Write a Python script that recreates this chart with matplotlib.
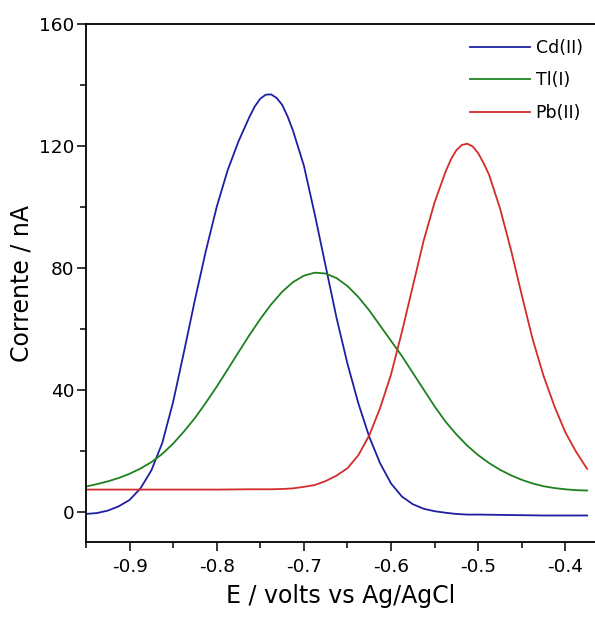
import matplotlib
matplotlib.use("Agg")
import matplotlib.pyplot as plt
from matplotlib.ticker import MultipleLocator

# potentials (V vs Ag/AgCl) and currents (nA)
cd_potential = [-0.9500, -0.9375, -0.9250, -0.9125, -0.9000, -0.8875, -0.8750, -0.8625,
                -0.8500, -0.8375, -0.8250, -0.8125, -0.8000, -0.7875, -0.7750, -0.7625,
                -0.75625, -0.7500, -0.74375, -0.7375, -0.73125, -0.7250, -0.71875, -0.7125,
                -0.7000, -0.6875, -0.6750, -0.6625, -0.6500, -0.6375, -0.6250, -0.6125,
                -0.6000, -0.5875, -0.5750, -0.5625, -0.5500, -0.5375, -0.5250, -0.5125,
                -0.5000, -0.4750, -0.4500, -0.4250, -0.4000, -0.3750]
cd_current = [-0.8, -0.5, 0.3, 1.7, 3.8, 7.6, 13.5, 22.5,
              36.0, 52.5, 69.5, 85.5, 100.0, 112.0, 121.5, 129.5,
              133.0, 135.5, 136.8, 136.9, 135.7, 133.5, 129.7, 125.0,
              113.5, 97.5, 80.5, 63.5, 48.5, 35.5, 24.5, 15.8,
              9.2, 4.9, 2.4, 0.9, 0.1, -0.4, -0.8, -1.0,
              -1.0, -1.1, -1.2, -1.3, -1.3, -1.3]

tl_potential = [-0.9500, -0.9375, -0.9250, -0.9125, -0.9000, -0.8875, -0.8750, -0.8625,
                -0.8500, -0.8375, -0.8250, -0.8125, -0.8000, -0.7875, -0.7750, -0.7625,
                -0.7500, -0.7375, -0.7250, -0.7125, -0.7000, -0.6875, -0.6750, -0.6625,
                -0.6500, -0.6375, -0.6250, -0.6125, -0.6000, -0.5875, -0.5750, -0.5625,
                -0.5500, -0.5375, -0.5250, -0.5125, -0.5000, -0.4875, -0.4750, -0.4625,
                -0.4500, -0.4375, -0.4250, -0.4125, -0.4000, -0.3875, -0.3750]
tl_current = [8.2, 9.0, 9.9, 11.0, 12.4, 14.1, 16.2, 18.9,
              22.3, 26.3, 30.7, 35.7, 41.0, 46.6, 52.3, 57.9,
              63.2, 68.0, 72.1, 75.3, 77.4, 78.4, 78.1, 76.6,
              74.0, 70.4, 66.0, 61.0, 56.0, 51.0, 45.5, 40.0,
              34.5, 29.5, 25.3, 21.6, 18.5, 15.9, 13.7, 11.9,
              10.4, 9.2, 8.3, 7.7, 7.3, 7.0, 6.9]

pb_potential = [-0.9500, -0.9000, -0.8500, -0.8000, -0.7625, -0.7500, -0.7375, -0.7250,
                -0.7125, -0.7000, -0.6875, -0.6750, -0.6625, -0.6500, -0.6375, -0.6250,
                -0.6125, -0.6000, -0.5875, -0.5750, -0.5625, -0.5500, -0.5375, -0.53125,
                -0.5250, -0.51875, -0.5125, -0.50625, -0.5000, -0.49375, -0.4875, -0.4750,
                -0.4625, -0.4500, -0.4375, -0.4250, -0.4125, -0.4000, -0.3875, -0.3750]
pb_current = [7.2, 7.2, 7.2, 7.2, 7.3, 7.3, 7.3, 7.4,
              7.6, 8.1, 8.7, 10.0, 11.8, 14.2, 18.5, 25.0,
              34.0, 45.0, 59.0, 74.0, 89.0, 101.5, 111.5, 115.6,
              118.6, 120.3, 120.7, 119.8, 117.6, 114.3, 110.5, 99.5,
              86.0, 71.0, 56.5, 44.5, 34.5, 26.0, 19.5, 14.0]

labels = ["Cd(II)", "Tl(I)", "Pb(II)"]
colors = ["#1f1fa3", "#1f801f", "#d42b2b"]

fig = plt.figure(figsize=(5.95, 6.17), dpi=100)
ax = fig.add_axes([86 / 595, 75 / 617, 509 / 595, 518 / 617])

series = [(cd_potential, cd_current), (tl_potential, tl_current), (pb_potential, pb_current)]
for (x, y), lab, c in zip(series, labels, colors):
    ax.plot(x, y, color=c, lw=1.3, label=lab)

ax.set_xlim(-0.95, -0.366)
ax.set_ylim(-10, 160)
ax.xaxis.set_minor_locator(MultipleLocator(0.05))
ax.yaxis.set_major_locator(MultipleLocator(40))
ax.yaxis.set_minor_locator(MultipleLocator(20))
ax.set_xticks([-0.9, -0.8, -0.7, -0.6, -0.5, -0.4])
ax.set_xticklabels(["-0.9", "-0.8", "-0.7", "-0.6", "-0.5", "-0.4"])

ax.spines["right"].set_visible(False)
for s in ["left", "bottom", "top"]:
    ax.spines[s].set_linewidth(1.3)
ax.tick_params(which="major", direction="out", length=6.5, width=1.1, labelsize=13.3)
ax.tick_params(which="minor", direction="out", length=4, width=1.1)
ax.tick_params(axis="y", pad=2)
ax.tick_params(axis="x", pad=5)

ax.set_xlabel("E / volts vs Ag/AgCl", fontsize=17, labelpad=6)
ax.set_ylabel("Corrente / nA", fontsize=17, labelpad=4)

ax.legend(loc="upper left", bbox_to_anchor=(0.74, 0.985), frameon=False,
          fontsize=12.5, handlelength=3.5, handletextpad=0.3, labelspacing=0.85,
          borderaxespad=0)

fig.savefig("out.png", dpi=100)
